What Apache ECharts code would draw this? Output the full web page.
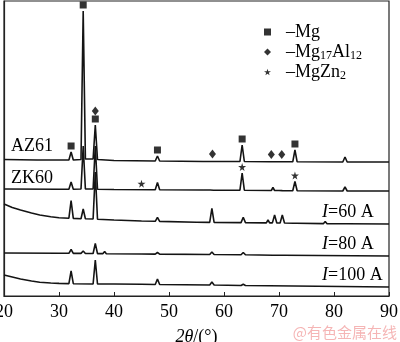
<!DOCTYPE html>
<html>
<head>
<meta charset="utf-8">
<script src="https://cdn.jsdelivr.net/npm/echarts@6/dist/echarts.min.js"></script>
<style>
  html, body { margin: 0; padding: 0; background: #fff; }
  #chart { width: 400px; height: 342px; }
</style>
</head>
<body>
<div id="chart"></div>
<script>
// XRD patterns: [2θ (°), intensity (a.u.)], each drawn on its own baseline
const az61 = [[20,2.5],[26,2],[31.8,2],[32.2,10],[32.6,2],[34.0,2.5],[34.4,151],[34.8,3],[36.2,3],[36.6,37],[37.0,2.5],[40,1.5],[47.5,1],[47.9,6],[48.3,1],[56.2,0.5],[56.5,2],[56.8,0.5],[57.6,0.5],[57.9,2],[58.2,0.5],[62.9,0.5],[63.3,17],[63.7,0.5],[68.3,0.3],[68.6,1.5],[68.9,0.3],[70.2,0.3],[70.5,1.5],[70.8,0.3],[72.5,0.2],[72.9,12],[73.3,0.2],[81.6,0],[82.0,5],[82.4,0],[90,0]];
const zk60 = [[20,2],[30,1.8],[31.8,1.8],[32.2,9],[32.6,1.8],[34.0,2],[34.4,45],[34.8,2],[36.2,2],[36.6,45],[37.0,1.8],[40,1.5],[47.5,1.2],[47.9,8.5],[48.3,1.2],[56.2,1],[56.5,2.5],[56.8,1],[57.5,1],[57.8,2.5],[58.1,0.8],[62.9,0.8],[63.3,18],[63.7,0.8],[68.6,0.5],[68.9,3.5],[69.2,0.5],[70.0,0.5],[70.3,2.5],[70.6,0.4],[72.5,0.3],[72.9,9.5],[73.3,0.3],[81.6,0],[82.0,4],[82.4,0],[90,0]];
const i60 = [[20,20],[21.5,16.5],[23,14],[25,11],[26.5,9],[28.5,7.3],[30,6.3],[31.8,5.8],[32.2,23.5],[32.6,5.6],[34.0,5.3],[34.4,15],[34.8,5.2],[36.2,5],[36.6,52],[37.0,4.8],[40,4],[45,3],[47.5,2.7],[47.9,6.7],[48.3,2.6],[55,1.8],[57.4,1.6],[57.8,15.7],[58.2,1.6],[63.1,1.4],[63.5,6.7],[63.9,1.4],[67.7,1.1],[68.0,4],[68.3,1.1],[68.8,1.1],[69.2,9],[69.6,1],[70.2,1],[70.6,9],[71.0,1],[72.6,0.8],[72.9,2.5],[73.2,0.8],[78.1,0.4],[78.4,2.5],[78.7,0.4],[81.7,0.2],[82.0,1.5],[82.3,0.2],[90,0]];
const i80 = [[20,3],[30,2.8],[31.8,2.7],[32.2,6.5],[32.6,2.6],[34.0,2.6],[34.4,5],[34.8,2.5],[36.2,2.5],[36.6,12.5],[37.0,2.4],[38.0,2.4],[38.3,4.5],[38.6,2.3],[45,2],[47.5,1.9],[47.9,3.5],[48.3,1.9],[57.4,1.5],[57.8,4],[58.2,1.5],[63.1,1.2],[63.5,3.5],[63.9,1.2],[68.9,0.8],[69.2,2.2],[69.5,0.8],[70.3,0.7],[70.6,1.8],[70.9,0.7],[90,0]];
const i100 = [[20,12],[21.5,10],[23,8],[25,6],[26.5,4.8],[28.5,4],[30,3.6],[31.8,3.4],[32.2,16],[32.6,3.3],[36.2,3],[36.6,27],[37.0,3],[40,3],[45,2.7],[47.5,2.5],[47.9,8],[48.3,2.5],[57.4,2],[57.8,5],[58.2,2],[63.1,1.5],[63.5,2.8],[63.9,1.5],[90,0]];

const traceNames = ['AZ61', 'ZK60', 'I=60 A', 'I=80 A', 'I=100 A'];
const traceData = [az61, zk60, i60, i80, i100];
// vertical shift of each pattern in the stack
const traceShift = [134, 105, 72, 40, 9];

// phase markers: [pattern, 2θ]
const phaseNames = ['Mg', 'Mg17Al12', 'MgZn2'];
const mgMarks = [['AZ61', 32.2], ['AZ61', 34.4], ['AZ61', 36.6], ['AZ61', 47.9], ['AZ61', 63.3], ['AZ61', 72.9]];
const mg17al12Marks = [['AZ61', 36.6], ['AZ61', 57.9], ['AZ61', 68.6], ['AZ61', 70.5]];
const mgzn2Marks = [['ZK60', 45.0], ['ZK60', 63.3], ['ZK60', 72.9]];

const xTicks = [20, 30, 40, 50, 60, 70, 80, 90];

const SERIF = '"Liberation Serif", "Times New Roman", serif';
const INK = '#141414';
const STAR = 'path://M50,0 L61,35 L98,35 L68,57 L79,91 L50,70 L21,91 L32,57 L2,35 L39,35 Z';

function shifted(k) {
  return traceData[k].map(p => [p[0], p[1] + traceShift[k]]);
}

// height of a pattern at 2θ: the highest point close by, or the interpolated baseline
function heightAt(k, x) {
  const pts = traceData[k];
  let best = null;
  pts.forEach(p => { if (Math.abs(p[0] - x) <= 0.3 && (best === null || p[1] > best)) best = p[1]; });
  if (best === null) {
    for (let i = 1; i < pts.length; i++) {
      if (pts[i][0] >= x) {
        const a = pts[i - 1], b = pts[i];
        best = a[1] + (b[1] - a[1]) * (x - a[0]) / (b[0] - a[0]);
        break;
      }
    }
  }
  return best + traceShift[k];
}

const allMarks = [mgMarks, mg17al12Marks, mgzn2Marks];
const symbols = ['rect', 'diamond', STAR];
const symbolSizes = [7, [7, 9], 8];

function markData(ph) {
  return allMarks[ph].map(m => {
    const k = traceNames.indexOf(m[0]);
    let level = 0;
    for (let q = 0; q < ph; q++) {
      if (allMarks[q].some(o => o[0] === m[0] && o[1] === m[1])) level++;
    }
    return { value: [m[1], heightAt(k, m[1])], symbolOffset: [0, -(6 + 8 * level)] };
  });
}

const series = [];
traceData.forEach((d, k) => {
  series.push({
    name: traceNames[k],
    type: 'line',
    data: shifted(k),
    showSymbol: false,
    smooth: false,
    silent: true,
    lineStyle: { color: INK, width: 1.6 },
    z: 2
  });
});
phaseNames.forEach((nm, ph) => {
  series.push({
    name: nm,
    type: 'scatter',
    data: markData(ph),
    symbol: symbols[ph],
    symbolSize: symbolSizes[ph],
    itemStyle: { color: '#000' },
    z: 3
  });
});

const legendText = {
  'Mg': '{g| }–Mg',
  'Mg17Al12': '{g| }–Mg{s|17}Al{s|12}',
  'MgZn2': '{g| }–MgZn{s|2}'
};

const labelPos = [
  { left: 11, top: 147 },
  { left: 11, top: 179 },
  { left: 322, top: 213 },
  { left: 322, top: 245 },
  { left: 322, top: 276 }
];

function labelRich(name) {
  if (name.startsWith('I=')) return '{i|I}' + name.slice(1);
  return name;
}

const chart = echarts.init(document.getElementById('chart'), null, { renderer: 'canvas' });
chart.setOption({
  animation: false,
  backgroundColor: '#fff',
  grid: {
    left: 4, right: 11, top: 1, bottom: 46,
    containLabel: false, outerBoundsMode: 'none',
    show: true, borderColor: '#222', borderWidth: 1.2
  },
  xAxis: {
    type: 'value', min: xTicks[0], max: xTicks[xTicks.length - 1], interval: 10,
    axisLine: { lineStyle: { color: '#222', width: 1.2 } },
    axisTick: { inside: true, length: 4, lineStyle: { color: '#222' } },
    splitLine: { show: false },
    axisLabel: { color: '#000', fontFamily: SERIF, fontSize: 18, margin: 7 },
    name: '{i|2θ}/(°)',
    nameLocation: 'middle',
    nameGap: 32,
    nameTextStyle: {
      color: '#000', fontFamily: SERIF, fontSize: 18,
      rich: { i: { fontFamily: SERIF, fontSize: 18, fontStyle: 'italic', color: '#000' } }
    }
  },
  yAxis: {
    type: 'value', min: 0, max: 295,
    axisLine: { show: true, lineStyle: { color: '#222', width: 1.2 } },
    axisTick: { show: false }, axisLabel: { show: false }, splitLine: { show: false }
  },
  legend: {
    data: phaseNames,
    orient: 'vertical',
    left: 259, top: 17,
    itemWidth: 7, itemHeight: 7,
    itemGap: 0,
    selectedMode: false,
    formatter: n => legendText[n],
    textStyle: {
      color: '#000', fontFamily: SERIF, fontSize: 18, lineHeight: 20,
      rich: {
        g: { width: 10 },
        s: { fontFamily: SERIF, fontSize: 12, lineHeight: 11, verticalAlign: 'bottom', color: '#000' }
      }
    }
  },
  graphic: traceNames.map((nm, k) => ({
    type: 'text',
    left: labelPos[k].left,
    top: labelPos[k].top - 10,
    silent: true,
    style: {
      text: labelRich(nm),
      fill: '#000',
      font: '18px ' + SERIF,
      rich: { i: { fontFamily: SERIF, fontSize: 18, fontStyle: 'italic', fill: '#000' } }
    }
  })).concat([{
    type: 'text',
    right: 3, bottom: 2,
    silent: true,
    style: {
      text: '@有色金属在线',
      fill: 'rgba(236,120,120,0.55)',
      font: '15px "Noto Sans CJK SC", sans-serif'
    }
  }]),
  series: series
});
</script>
</body>
</html>
